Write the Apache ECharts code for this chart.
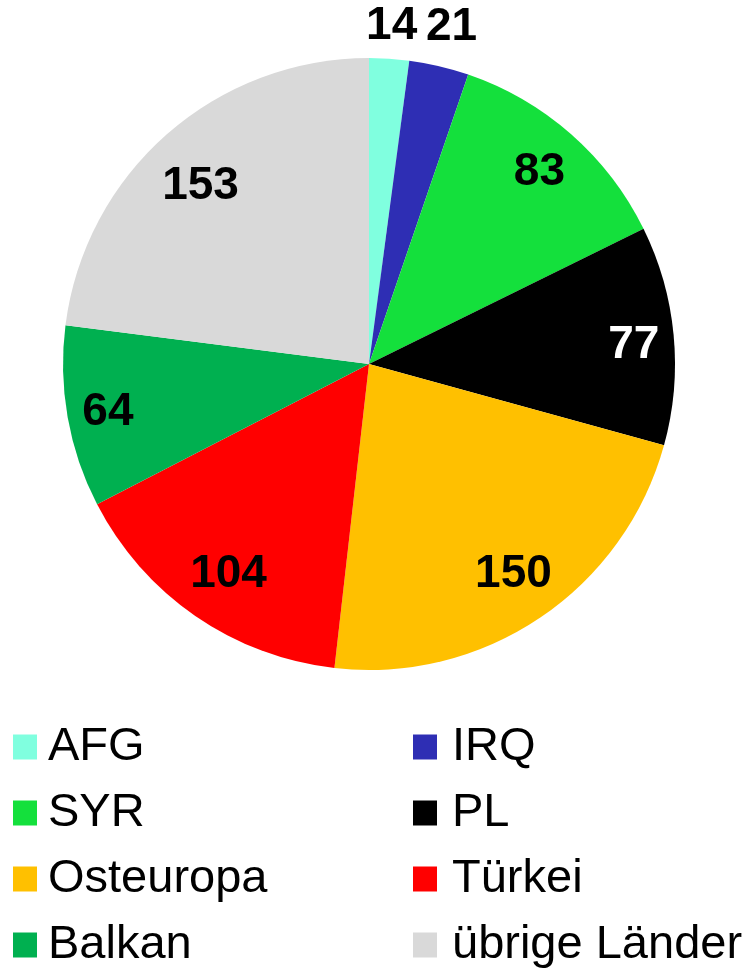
<!DOCTYPE html>
<html>
<head>
<meta charset="utf-8">
<script src="https://cdn.jsdelivr.net/npm/echarts@6/dist/echarts.min.js"></script>
<style>
  html, body { margin: 0; padding: 0; background: #fff; }
  #chart { width: 749px; height: 968px; }
</style>
</head>
<body>
<div id="chart"></div>
<script>
// Anteile nach Herkunft
var categories = ['AFG', 'IRQ', 'SYR', 'PL', 'Osteuropa', 'Türkei', 'Balkan', 'übrige Länder'];
var values = [14, 21, 83, 77, 150, 104, 64, 153];
var colors = ['#80FFDF', '#2E2EB4', '#14E03C', '#000000', '#FFC000', '#FF0000', '#00B050', '#D9D9D9'];
var labelColors = ['#000', '#000', '#000', '#fff', '#000', '#000', '#000', '#000'];
// kleine Werte stehen ausserhalb
var outside = ['AFG', 'IRQ'];
// kleine Korrekturen der Beschriftung
var labelShift = [[0, 5], [4, -3], [0, 2], [8, 6], [0, -3], [6, -2], [-7, 4], [2, 16]];

var legendLeft = ['AFG', 'SYR', 'Osteuropa', 'Balkan'];
var legendRight = ['IRQ', 'PL', 'Türkei', 'übrige Länder'];

var center = [369, 364];
var R = 306;

var chart = echarts.init(document.getElementById('chart'));

var pieData = categories.map(function (c, i) {
	return { name: c, value: values[i], itemStyle: { color: colors[i] } };
});

// transparente Ringe nur fuer die Beschriftung
function labelRing(showOutside) {
	return categories.map(function (c, i) {
		var isOut = outside.indexOf(c) >= 0;
		return {
			name: c,
			value: values[i],
			itemStyle: { color: 'rgba(0,0,0,0)' },
			label: {
				show: showOutside ? isOut : !isOut,
				color: labelColors[i],
				offset: labelShift[i]
			}
		};
	});
}

var labelStyle = {
	position: 'inside',
	formatter: '{c}',
	fontFamily: 'Liberation Sans, Arial, sans-serif',
	fontSize: 46,
	fontWeight: 'bold'
};

var legendText = {
	fontFamily: 'Liberation Sans, Arial, sans-serif',
	fontSize: 47,
	lineHeight: 50,
	color: '#000'
};

function legendCol(left, names, gap) {
	return {
		orient: 'vertical',
		left: left,
		top: 722,
		height: 280,
		padding: 0,
		icon: 'rect',
		itemWidth: 24,
		itemHeight: 25,
		itemGap: 16,
		selectedMode: false,
		data: names,
		textStyle: Object.assign({ padding: [0, 0, 0, gap] }, legendText)
	};
}

var option = {
	animation: false,
	legend: [legendCol(13, legendLeft, 6), legendCol(413, legendRight, 10)],
	series: [{
		name: 'Herkunft',
		type: 'pie',
		center: center,
		radius: R,
		startAngle: 90,
		clockwise: true,
		label: { show: false },
		labelLine: { show: false },
		emphasis: { disabled: true },
		data: pieData
	}, {
		type: 'pie',
		center: center,
		radius: [204, R],
		startAngle: 90,
		silent: true,
		legendHoverLink: false,
		label: labelStyle,
		labelLine: { show: false },
		emphasis: { disabled: true },
		data: labelRing(false)
	}, {
		type: 'pie',
		center: center,
		radius: [316, 364],
		startAngle: 90,
		silent: true,
		legendHoverLink: false,
		label: labelStyle,
		labelLine: { show: false },
		emphasis: { disabled: true },
		data: labelRing(true)
	}]
};

chart.setOption(option);
</script>
</body>
</html>
